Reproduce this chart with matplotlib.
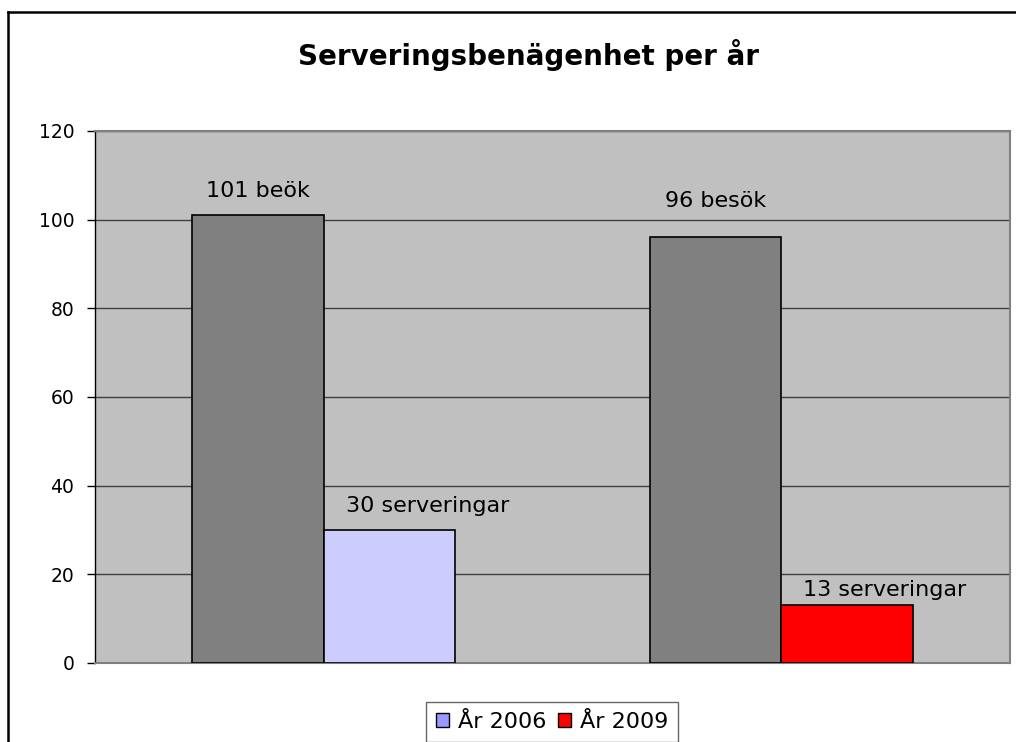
import matplotlib
matplotlib.use('Agg')
import matplotlib.pyplot as plt
from matplotlib.patches import Patch
from matplotlib.lines import Line2D
import numpy as np

plt.rcParams['font.family'] = ['DejaVu Sans']

# data
groups = ['2006', '2009']
besok = [101, 96]
serveringar = [30, 13]
besok_labels = ['101 beök', '96 besök']
serv_labels = ['30 serveringar', '13 serveringar']
serv_colors = ['#CCCCFF', '#FF0000']
legend_labels = ['År 2006', 'År 2009']
legend_colors = ['#9999FF', '#FF0000']

PX = 0.72  # points per pixel at dpi 100

fig = plt.figure(figsize=(10.16, 7.42), dpi=100)
ax = fig.add_axes([95 / 1016, 1 - 663 / 742, 915 / 1016, 532 / 742])
ax.set_facecolor('#C0C0C0')

x = np.arange(len(groups))
w = 0.287
ax.bar(x - w / 2, besok, w, color='#808080', edgecolor='black', linewidth=1.2, zorder=3)
ax.bar(x + w / 2, serveringar, w, color=serv_colors, edgecolor='black', linewidth=1.2, zorder=3)

# label gaps above the bars (pixels), as placed in the original
gap_besok = [18, 30]
gap_serv = [18, 9]
for i in range(len(groups)):
    ax.annotate(besok_labels[i], (x[i] - w / 2, besok[i]), xytext=(0, gap_besok[i] * PX),
                textcoords='offset points', ha='center', va='baseline', fontsize=16)
    ax.annotate(serv_labels[i], (x[i] + w / 2, serveringar[i]), xytext=(38 * PX, gap_serv[i] * PX),
                textcoords='offset points', ha='center', va='baseline', fontsize=16)

ax.set_xlim(-0.5, 1.5)
ax.set_ylim(0, 120)
ax.set_yticks(range(0, 121, 20))
ax.set_xticks([])
ax.yaxis.grid(True, color='#404040', linewidth=1, zorder=0)
ax.tick_params(axis='y', labelsize=13.5, length=6, width=1, direction='out', pad=9)
for s in ['top', 'right', 'bottom']:
    ax.spines[s].set_color('#808080')
    ax.spines[s].set_linewidth(1.5)
ax.spines['left'].set_color('black')
ax.spines['left'].set_linewidth(1)

fig.text(529 / 1016, 1 - 55 / 742, 'Serveringsbenägenhet per år', ha='center', va='center',
         fontsize=20, fontweight='bold')

# legend, bottom part cut off by the figure edge like the original
handles = [Patch(facecolor=c, edgecolor='black', linewidth=1) for c in legend_colors]
leg = fig.legend(handles, legend_labels, loc='upper center', bbox_to_anchor=(552 / 1016, 1 - 702 / 742),
                 ncol=2, fontsize=16, frameon=True, fancybox=False, handlelength=0.6, handleheight=0.6,
                 handletextpad=0.4, columnspacing=0.5, borderpad=0.45, borderaxespad=0)
leg.get_frame().set_edgecolor('#404040')
leg.get_frame().set_linewidth(1)

# outer chart border (left and top edges visible)
fig.add_artist(Line2D([8 / 1016, 8 / 1016], [0, 1 - 12 / 742], color='black', linewidth=1.8))
fig.add_artist(Line2D([8 / 1016, 1], [1 - 12 / 742, 1 - 12 / 742], color='black', linewidth=1.8))

fig.savefig('out.png', dpi=100)
